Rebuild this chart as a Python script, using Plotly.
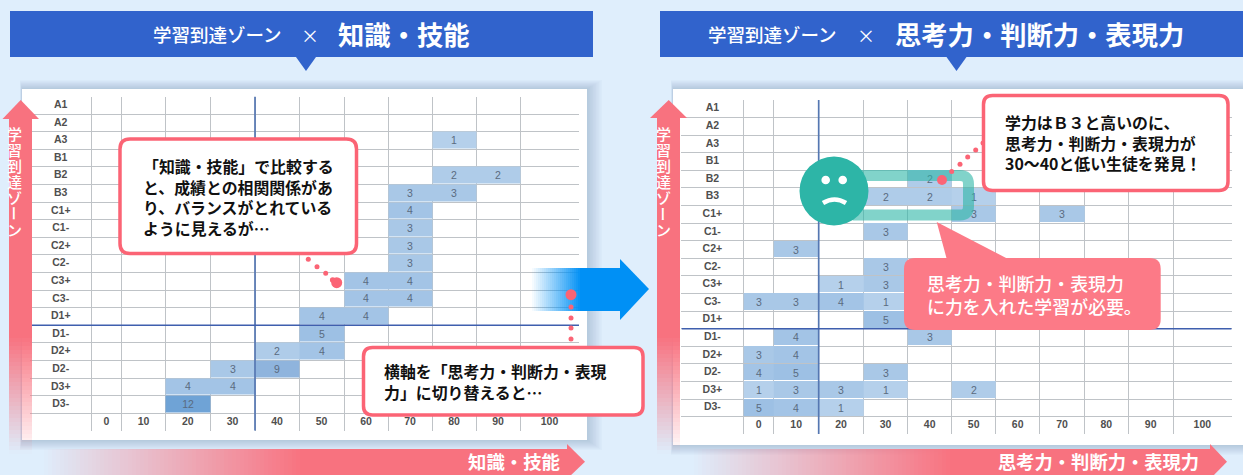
import numpy as np
import plotly.graph_objects as go

W, H = 1243, 475
JP = "Noto Sans CJK JP"
LATIN = "Liberation Sans"
PINK = "#fb6475"
ARROW = "#f8727f"
TEAL = "#2db5a7"

_ = None
rows = ["A1", "A2", "A3", "B1", "B2", "B3", "C1+", "C1-", "C2+", "C2-", "C3+", "C3-",
        "D1+", "D1-", "D2+", "D2-", "D3+", "D3-"]
scores = ["0", "10", "20", "30", "40", "50", "60", "70", "80", "90", "100"]

# students per cell, rows top to bottom, columns 0..100
knowledge_counts = [
    [_, _, _, _, _, _, _, _, _, _, _],
    [_, _, _, _, _, _, _, _, _, _, _],
    [_, _, _, _, _, _, _, _, 1, _, _],
    [_, _, _, _, _, _, _, _, _, _, _],
    [_, _, _, _, _, _, _, _, 2, 2, _],
    [_, _, _, _, _, _, _, 3, 3, _, _],
    [_, _, _, _, _, _, _, 4, _, _, _],
    [_, _, _, _, _, _, _, 3, _, _, _],
    [_, _, _, _, _, _, _, 3, _, _, _],
    [_, _, _, _, _, _, _, 3, _, _, _],
    [_, _, _, _, _, _, 4, 4, _, _, _],
    [_, _, _, _, _, _, 4, 4, _, _, _],
    [_, _, _, _, _, 4, 4, _, _, _, _],
    [_, _, _, _, _, 5, _, _, _, _, _],
    [_, _, _, _, 2, 4, _, _, _, _, _],
    [_, _, _, 3, 9, _, _, _, _, _, _],
    [_, _, 4, 4, _, _, _, _, _, _, _],
    [_, _, 12, _, _, _, _, _, _, _, _],
]
thinking_counts = [
    [_, _, _, _, _, _, _, _, _, _, _],
    [_, _, _, _, _, _, _, _, _, _, _],
    [_, _, _, _, _, _, _, _, _, _, _],
    [_, _, _, _, _, _, _, _, _, _, _],
    [_, _, _, _, 2, _, _, _, _, _, _],
    [_, _, _, 2, 2, 1, _, _, _, _, _],
    [_, _, _, _, _, 3, _, 3, _, _, _],
    [_, _, _, 3, _, _, _, _, _, _, _],
    [_, 3, _, _, _, _, _, _, _, _, _],
    [_, _, _, 3, _, _, _, _, _, _, _],
    [_, _, 1, 3, _, _, _, _, _, _, _],
    [3, 3, 4, 1, _, _, _, _, _, _, _],
    [_, _, _, 5, _, _, _, _, _, _, _],
    [_, 4, _, _, 3, _, _, _, _, _, _],
    [3, 4, _, _, _, _, _, _, _, _, _],
    [4, 5, _, 3, _, _, _, _, _, _, _],
    [1, 3, 3, 1, _, 2, _, _, _, _, _],
    [5, 4, 1, _, _, _, _, _, _, _, _],
]

# the sheets have uneven column widths (px)
knowledge_widths = [30, 44, 44.5, 45, 44, 45, 44, 44, 44, 44, 59]
thinking_widths = [30, 45, 44.6, 44.4, 44, 44, 44, 44.6, 44, 44.7, 58.7]

blues = [[0, "#b5d0eb"], [0.36, "#9dc0e4"], [0.73, "#8fb4dd"], [1, "#6fa3d6"]]


def fx(x):
    return x / W


def fy(y):
    return 1 - y / H


def poly(points, **kw):
    path = "M " + " L ".join(f"{fx(x):.5f},{fy(y):.5f}" for x, y in points) + " Z"
    return dict(type="path", xref="paper", yref="paper", path=path, line_width=0, **kw)


def rect(x0, y0, x1, y1, **kw):
    return dict(type="rect", xref="paper", yref="paper", x0=fx(x0), x1=fx(x1),
                y0=fy(y0), y1=fy(y1), line_width=0, **kw)


def dot(x, y, r, color=PINK):
    return dict(type="circle", xref="paper", yref="paper", x0=fx(x - r), x1=fx(x + r),
                y0=fy(y - r), y1=fy(y + r), fillcolor=color, line_width=0, layer="above")


def round_box(x0, y0, x1, y1, r, fill, line=None, lw=0):
    p = lambda x, y: f"{fx(x):.5f},{fy(y):.5f}"
    path = (f"M {p(x0 + r, y0)} L {p(x1 - r, y0)} Q {p(x1, y0)} {p(x1, y0 + r)} "
            f"L {p(x1, y1 - r)} Q {p(x1, y1)} {p(x1 - r, y1)} "
            f"L {p(x0 + r, y1)} Q {p(x0, y1)} {p(x0, y1 - r)} "
            f"L {p(x0, y0 + r)} Q {p(x0, y0)} {p(x0 + r, y0)} Z")
    return dict(type="path", xref="paper", yref="paper", path=path, fillcolor=fill,
                line=dict(color=line, width=lw), layer="above")


def label(x, y, text, size, color="white", weight=400, anchor="center", angle=0):
    return dict(xref="paper", yref="paper", x=fx(x), y=fy(y), text=text, showarrow=False,
                xanchor=anchor, yanchor="middle", align=anchor if anchor != "center" else "center",
                textangle=angle, font=dict(family=JP, size=size, color=color, weight=weight))


def rgba(hex_color, a):
    r, g, b = (int(hex_color[i:i + 2], 16) for i in (1, 3, 5))
    return f"rgba({r},{g},{b},{a:.3f})"


def fade_h(x0, x1, y0, y1, solid_at, color, step=4):
    out = []
    for x in range(x0, x1, step):
        a = min(1, (x - x0) / (solid_at - x0))
        out.append(rect(x, y0, x + step, y1, fillcolor=rgba(color, a), layer="above"))
    return out


def fade_v(x0, x1, y0, y1, solid_at, color, step=4):
    # y1 is the faded end, solid above solid_at
    out = []
    for y in range(y0, y1, step):
        a = 1 if y < solid_at else 1 - (y - solid_at) / (y1 - solid_at)
        out.append(rect(x0, y, x1, y + step, fillcolor=rgba(color, a), layer="above"))
    return out


def card_shadow(x0, y0, x1, y1):
    out = []
    for i in range(10, 0, -1):
        out.append(rect(x0 - i * 0.2, y0 - i * 0.9, x1 + i * 1.5, y1 + i * 1.0,
                        fillcolor="rgba(70,105,135,0.028)", layer="below"))
    out.append(rect(x0, y0, x1, y1, fillcolor="white", layer="below"))
    return out


def vertical_text(x, y, text, step, size):
    out = []
    for i, ch in enumerate(text):
        out.append(label(x, y + i * step, ch, size, weight=500, angle=90 if ch == "ー" else 0))
    return out


def sheet(fig, counts, widths, row_col_w, n):
    edges = np.concatenate([[0], np.cumsum(widths)])
    centers = (edges[:-1] + edges[1:]) / 2
    xa, ya = f"x{n}", f"y{n}"
    cell_text = [["" if v is None else str(v) for v in row] for row in counts]
    fig.add_trace(go.Heatmap(z=counts, x=edges, y=list(range(len(rows))), text=cell_text,
                             texttemplate="%{text}", colorscale=blues, zmin=1, zmax=12,
                             showscale=False, ygap=1, hoverinfo="skip", xaxis=xa, yaxis=ya,
                             textfont=dict(family=LATIN, size=10.5, color="#5a6b80")))
    fig.add_trace(go.Scatter(x=[-row_col_w / 2] * len(rows), y=list(range(len(rows))), text=rows,
                             mode="text", hoverinfo="skip", xaxis=xa, yaxis=ya,
                             textfont=dict(family=LATIN, size=10.5, color="#4f4f4f", weight=700)))
    fig.add_trace(go.Scatter(x=centers, y=[len(rows)] * len(scores), text=scores,
                             mode="text", hoverinfo="skip", xaxis=xa, yaxis=ya,
                             textfont=dict(family=LATIN, size=10.5, color="#4f4f4f", weight=700)))
    return edges


fig = go.Figure()
k_edges = sheet(fig, knowledge_counts, knowledge_widths, 61.5, "")
t_edges = sheet(fig, thinking_counts, thinking_widths, 62.7, 2)
row_edges = [i - 0.5 for i in range(len(rows) + 1)]
grid = dict(showgrid=True, gridcolor="#bfc3c7", gridwidth=1, zeroline=False,
            showticklabels=False, ticks="", tickmode="array", showline=False)

shapes = []
shapes += card_shadow(22, 89, 587, 440)
shapes += card_shadow(673, 89, 1243, 445)

# sheet split lines
for xref, yref, edges, col in [("x", "y", k_edges, 4), ("x2", "y2", t_edges, 2)]:
    shapes.append(dict(type="line", xref=xref, yref=yref, x0=edges[col], x1=edges[col], y0=-0.5, y1=18.49,
                       line=dict(color="#5577b2", width=1.7), layer="above"))
    shapes.append(dict(type="line", xref=xref, yref=yref, x0=-62, x1=edges[-1], y0=12.5, y1=12.5,
                       line=dict(color="#3f5fae", width=1.5), layer="above"))

# header bars
for x0, x1, tip in [(10, 593, 306), (660, 1243, 956.5)]:
    shapes.append(rect(x0, 11, x1, 57, fillcolor="#3163cc", layer="above"))
    shapes.append(poly([(tip - 10, 57), (tip + 10, 57), (tip, 71)], fillcolor="#3163cc", layer="above"))

# axis arrows
shapes += fade_v(9, 32, 118, 452, 335, ARROW)
shapes.append(poly([(20.7, 100), (39, 119), (2.5, 119)], fillcolor=ARROW, layer="above"))
shapes += fade_v(657, 680, 118, 452, 335, ARROW)
shapes.append(poly([(668.7, 100), (687, 118), (650, 118)], fillcolor=ARROW, layer="above"))
shapes += fade_h(40, 567, 449, 475, 300, ARROW)
shapes.append(poly([(567, 444), (585, 461.7), (567, 479)], fillcolor=ARROW, layer="above"))
shapes += fade_h(690, 1210, 449, 475, 950, ARROW)
shapes.append(poly([(1210, 444), (1227, 461.7), (1210, 479)], fillcolor=ARROW, layer="above"))

# blue arrow between the sheets
shapes += fade_h(530, 620, 268, 311, 580, "#0090f5", step=2)
shapes.append(poly([(620, 259), (649, 289), (620, 320)], fillcolor="#0090f5", layer="above"))

# teal bracket round the highlighted cells, then the face
p = lambda x, y: f"{fx(x):.5f},{fy(y):.5f}"
shapes.append(dict(type="path", xref="paper", yref="paper", layer="above", fillcolor="rgba(0,0,0,0)",
                   path=f"M {p(853, 175.5)} L {p(960, 175.5)} Q {p(968.5, 175.5)} {p(968.5, 184)} "
                        f"L {p(968.5, 206.5)} Q {p(968.5, 215)} {p(960, 215)} L {p(853, 215)}",
                   line=dict(color="rgba(45,181,167,0.6)", width=11)))
shapes.append(dot(834, 191, 34.5, TEAL))
shapes.append(dot(825.7, 180, 4.3, "white"))
shapes.append(dot(842.7, 180, 4.3, "white"))
shapes.append(dict(type="path", xref="paper", yref="paper", layer="above", fillcolor="rgba(0,0,0,0)",
                   path=f"M {p(823, 203)} Q {p(834.5, 196)} {p(846, 203)}",
                   line=dict(color="white", width=4.5)))

# pink speech box under the bracket
shapes.append(poly([(936.7, 222), (947, 260), (1010, 260)], fillcolor="#fc7a87", layer="above"))
shapes.append(round_box(904, 258, 1160.7, 330, 11, "#fc7a87"))

# callout dots
for x, y, r in [(308.3, 259.3, 2.5), (317, 266.7, 2.5), (325.7, 273.3, 2.5), (332.7, 280, 2.8), (336.7, 282.7, 5.5),
                (571, 294.7, 5.5), (571, 307, 2.5), (571, 318, 2.5), (571, 328, 2.5), (571, 339, 2.5),
                (942, 180, 5), (951.7, 171.5, 2.5), (960, 164.3, 2.5), (967.7, 157, 2.5), (975.7, 150, 2.5),
                (983, 143, 2.5)]:
    shapes.append(dot(x, y, r))

shapes.append(round_box(120, 139, 356.5, 253.5, 10, "white", PINK, 3.5))
shapes.append(round_box(363.5, 347.5, 643, 415, 9, "white", PINK, 3.5))
shapes.append(round_box(983.5, 95.5, 1228, 190.5, 9, "white", PINK, 3.5))

notes = [
    label(150.5, 34, "学習到達ゾーン", 18.5, weight=500, anchor="left"),
    label(310, 35, "×", 18),
    label(336.5, 33, "知識・技能", 26.3, weight=700, anchor="left"),
    label(705.5, 34, "学習到達ゾーン", 18.5, weight=500, anchor="left"),
    label(866, 35, "×", 18),
    label(893, 33, "思考力・判断力・表現力", 26.3, weight=700, anchor="left"),
    label(466, 461, "知識・技能", 18.4, weight=700, anchor="left"),
    label(996, 461, "思考力・判断力・表現力", 18.3, weight=700, anchor="left"),
    label(141, 197.5, "「知識・技能」で比較する<br>と、成績との相関関係があ<br>り、バランスがとれている<br>ように見えるが…",
          15.9, "#111111", 700, "left"),
    label(382, 382, "横軸を「思考力・判断力・表現<br>力」に切り替えると…", 15.9, "#111111", 700, "left"),
    label(1003, 143.5, "学力はＢ３と高いのに、<br>思考力・判断力・表現力が<br>30～40と低い生徒を発見！",
          15.9, "#111111", 700, "left"),
    label(925, 294.5, "思考力・判断力・表現力<br>に力を入れた学習が必要。", 17.9, weight=500, anchor="left"),
]
notes += vertical_text(14.7, 133, "学習到達ゾーン", 16.1, 15)
notes += vertical_text(663, 133, "学習到達ゾーン", 16.1, 15)

fig.update_layout(
    width=W, height=H, margin=dict(l=0, r=0, t=0, b=0), showlegend=False,
    paper_bgcolor="#dfeefc", plot_bgcolor="rgba(0,0,0,0)",
    xaxis=dict(domain=[fx(30), fx(579)], range=[-61.5, k_edges[-1]], tickvals=list(k_edges), **grid),
    yaxis=dict(domain=[fy(430.7), fy(96.5)], range=[18.49, -0.5], tickvals=row_edges, **grid),
    xaxis2=dict(domain=[fx(681), fx(1231.7)], range=[-62.7, t_edges[-1]], tickvals=list(t_edges), anchor="y2", **grid),
    yaxis2=dict(domain=[fy(434), fy(100)], range=[18.49, -0.5], tickvals=row_edges, anchor="x2", **grid),
    shapes=shapes, annotations=notes,
)

fig.write_html("out.html", config=dict(displayModeBar=False),
               post_script="document.body.style.margin='0';document.body.style.overflow='hidden';")
